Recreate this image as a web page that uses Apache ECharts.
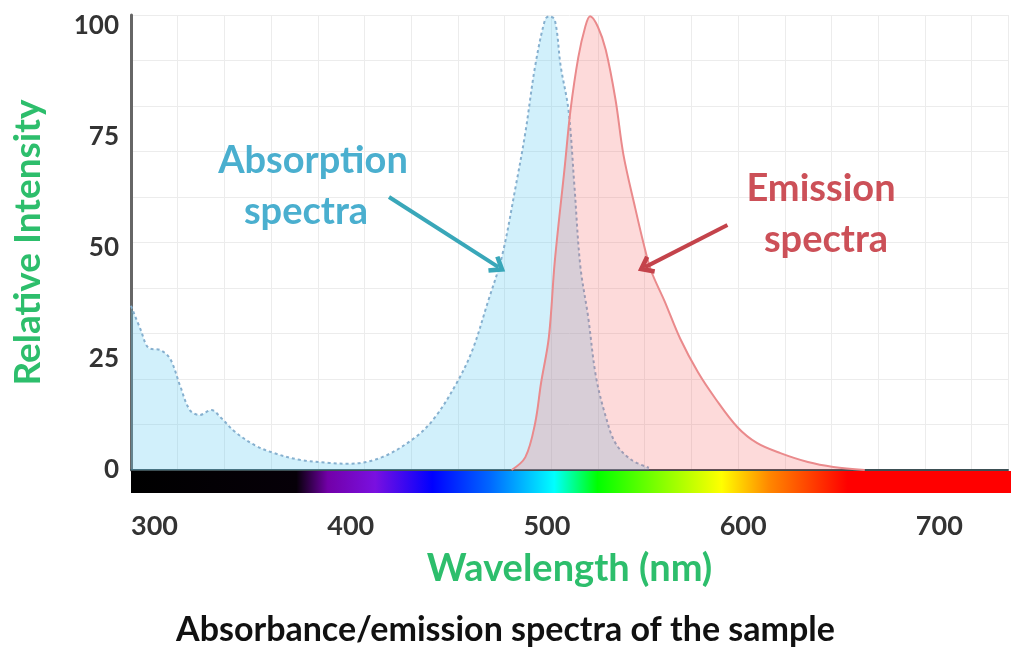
<!DOCTYPE html>
<html>
<head>
<meta charset="utf-8">
<title>Absorbance/emission spectra</title>
<script src="https://cdn.jsdelivr.net/npm/echarts@6/dist/echarts.min.js"></script>
<style>
  html, body { margin: 0; padding: 0; background: #fff; }
  #chart { width: 1011px; height: 650px; }
</style>
</head>
<body>
<div id="chart"></div>
<script>
// wavelength range of the plot (nm)
const wlMin = 288
const wlMax = 735

// absorption curve
const absWl = [288, 293, 297, 303, 308, 313, 318, 323, 329, 334, 341, 351, 361, 374, 389, 399, 416, 433, 443, 454,
  462, 470, 477, 484, 489, 494, 499, 501, 504, 507, 511, 514, 517, 521, 525, 530, 535, 543, 552]
const absVal = [37, 31.5, 27.5, 27, 25, 19, 13.5, 12.4, 13.5, 11.7, 8.6, 5.6, 3.8, 2.3, 1.6, 1.4, 2.9, 7.4, 11.9, 19.6,
  27, 38, 48, 63.7, 76, 91, 101.4, 102.2, 101.4, 91, 81, 64, 46, 34.5, 21, 12, 6, 2.3, 0.5]

// emission curve
const emWl = [482, 489, 494, 497, 501, 504, 509, 512, 516, 519.5, 522, 526, 530, 535, 539, 545, 549, 553, 560, 568,
  577, 586, 597, 607, 619, 633, 646, 662]
const emVal = [0, 2.9, 10.6, 19.6, 30, 47, 68, 81, 93, 99.8, 102.2, 99.8, 94.6, 83.3, 71, 59, 51.5, 45, 38, 29.5,
  22, 16, 9.7, 6.1, 3.8, 1.8, 0.7, 0]

// axis ticks
const yTicks = [0, 25, 50, 75, 100]
const xTicks = [300, 400, 500, 600, 700]

// colour bar under the axis
const spectrumNm = [288, 372, 388, 412, 441, 470, 503, 525, 560, 588, 612, 652, 735]
const spectrumColor = ['#000000', '#060008', '#7200a8', '#7a10e0', '#0000ff', '#0066ff', '#00ffff', '#00ff00',
  '#90ff00', '#ffff00', '#ff8800', '#ff0000', '#ff0000']

const green = '#2dbe6c'
const font = 'Lato'
const arrowHead = 'path://M0,12 L10,0 L20,12 L16.5,14.5 L10,7 L3.5,14.5 Z'

const chart = echarts.init(document.getElementById('chart'))

const stops = spectrumNm.map((nm, i) => ({
  offset: (nm - wlMin) / (wlMax - wlMin),
  color: spectrumColor[i]
}))

const option = {
  animation: false,
  title: {
    text: 'Absorbance/emission spectra of the sample',
    left: 'center',
    top: 608,
    textStyle: { fontFamily: font, fontSize: 34, fontWeight: 'bold', color: '#111' }
  },
  grid: [
    { left: 131, right: 3, top: 15, bottom: 180 },
    { left: 131, right: 0, top: 471, height: 22 }
  ],
  xAxis: [
    {
      type: 'value', gridIndex: 0, min: wlMin, max: wlMax,
      name: 'Wavelength (nm)', nameLocation: 'middle', nameGap: 80,
      nameTextStyle: { fontFamily: font, fontSize: 38, fontWeight: 'bold', color: green },
      axisLine: { show: true, lineStyle: { color: '#3d5055', width: 2 } },
      axisTick: { show: false },
      splitLine: { show: false },
      axisLabel: {
        customValues: xTicks, margin: 43,
        fontFamily: font, fontSize: 27, fontWeight: 'bold', color: '#333'
      }
    },
    {
      // faint vertical grid
      type: 'value', gridIndex: 0, position: 'top', min: 0, max: 18.78, interval: 1,
      axisLine: { show: false }, axisTick: { show: false }, axisLabel: { show: false },
      splitLine: { show: true, lineStyle: { color: '#ececec', width: 1 } }
    },
    {
      type: 'value', gridIndex: 1, min: wlMin, max: wlMax, show: false
    }
  ],
  yAxis: [
    {
      type: 'value', gridIndex: 0, min: 0, max: 102.5,
      name: 'Relative Intensity', nameLocation: 'middle', nameGap: 84,
      nameTextStyle: { fontFamily: font, fontSize: 37, fontWeight: 'bold', color: green },
      axisLine: { show: true, lineStyle: { color: '#666', width: 3 } },
      axisTick: { show: false },
      splitLine: { show: false },
      axisLabel: {
        customValues: yTicks, margin: 12,
        fontFamily: font, fontSize: 26, fontWeight: 'bold', color: '#333'
      }
    },
    {
      // faint horizontal grid
      type: 'value', gridIndex: 0, min: 0, max: 102.5, interval: 10.25,
      axisLine: { show: false }, axisTick: { show: false }, axisLabel: { show: false },
      splitLine: { show: true, lineStyle: { color: '#ececec', width: 1 } }
    },
    {
      type: 'value', gridIndex: 1, min: 0, max: 1, show: false
    }
  ],
  series: [
    {
      name: 'Absorption',
      type: 'line',
      xAxisIndex: 0, yAxisIndex: 0,
      data: absWl.map((w, i) => [w, absVal[i]]),
      smooth: 0.35,
      showSymbol: false,
      lineStyle: { color: '#86b0cf', width: 2, type: [3, 3] },
      areaStyle: { color: 'rgba(100,205,240,0.42)' },
      markLine: {
        silent: true,
        symbol: ['none', arrowHead],
        symbolSize: [20, 16],
        label: { show: false },
        lineStyle: { color: '#39a7b9', width: 4, type: 'solid' },
        data: [[{ coord: [419.5, 61.5] }, { coord: [475.3, 45.7] }]]
      },
      z: 2
    },
    {
      name: 'Emission',
      type: 'line',
      xAxisIndex: 0, yAxisIndex: 0,
      data: emWl.map((w, i) => [w, emVal[i]]),
      smooth: 0.35,
      showSymbol: false,
      lineStyle: { color: '#ea8a8c', width: 2 },
      areaStyle: { color: 'rgba(245,82,82,0.3)' },
      markLine: {
        silent: true,
        symbol: ['none', arrowHead],
        symbolSize: [20, 16],
        label: { show: false },
        lineStyle: { color: '#c4434b', width: 4, type: 'solid' },
        data: [[{ coord: [592, 55.2] }, { coord: [550, 45.7] }]]
      },
      z: 3
    },
    {
      // wavelength colour bar
      type: 'line',
      xAxisIndex: 2, yAxisIndex: 2,
      data: [],
      markArea: {
        silent: true,
        itemStyle: { color: new echarts.graphic.LinearGradient(0, 0, 1, 0, stops) },
        data: [[{ coord: [wlMin, 0] }, { coord: [wlMax, 1] }]]
      }
    }
  ],
  graphic: [
    { type: 'text', z: 100, x: 313, y: 161, style: { text: 'Absorption', font: 'bold 38px Lato', fill: '#4aafcf', align: 'center', verticalAlign: 'middle' } },
    { type: 'text', z: 100, x: 306, y: 212, style: { text: 'spectra', font: 'bold 38px Lato', fill: '#4aafcf', align: 'center', verticalAlign: 'middle' } },
    { type: 'text', z: 100, x: 821, y: 189, style: { text: 'Emission', font: 'bold 38px Lato', fill: '#cc5058', align: 'center', verticalAlign: 'middle' } },
    { type: 'text', z: 100, x: 826, y: 240, style: { text: 'spectra', font: 'bold 38px Lato', fill: '#cc5058', align: 'center', verticalAlign: 'middle' } }
  ]
}

chart.setOption(option)
</script>
</body>
</html>
